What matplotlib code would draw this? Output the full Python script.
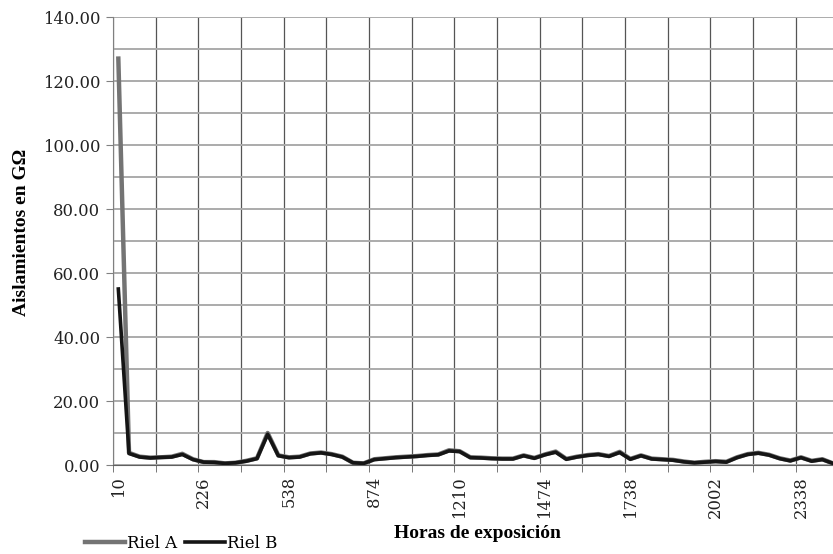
import matplotlib
matplotlib.use("Agg")
import matplotlib.pyplot as plt
from matplotlib.ticker import MultipleLocator, FixedLocator, FuncFormatter

riel_a = [127.0, 3.8, 2.6, 2.3, 2.4, 2.6, 3.5, 1.8, 0.9, 0.9,
          0.5, 0.7, 1.3, 2.1, 10.0, 3.0, 2.4, 2.6, 3.6, 3.9,
          3.4, 2.6, 0.7, 0.5, 1.8, 2.1, 2.4, 2.6, 2.8, 3.1,
          3.3, 4.6, 4.3, 2.4, 2.3, 2.1, 2.0, 2.0, 3.0, 2.2,
          3.3, 4.2, 1.9, 2.6, 3.1, 3.4, 2.8, 4.1, 1.9, 3.0,
          2.0, 1.8, 1.6, 1.1, 0.7, 1.0, 1.2, 1.0, 2.4, 3.4,
          3.8, 3.2, 2.1, 1.4, 2.4, 1.3, 1.8, 0.5]
riel_b = [55.0, 3.6, 2.5, 2.2, 2.4, 2.5, 3.3, 1.7, 0.9, 0.8,
          0.5, 0.7, 1.2, 2.0, 9.6, 2.9, 2.3, 2.5, 3.5, 3.8,
          3.3, 2.5, 0.7, 0.5, 1.7, 2.0, 2.3, 2.5, 2.7, 3.0,
          3.2, 4.4, 4.2, 2.3, 2.2, 2.0, 1.9, 1.9, 2.9, 2.1,
          3.2, 4.0, 1.8, 2.5, 3.0, 3.3, 2.7, 3.9, 1.8, 2.9,
          1.9, 1.7, 1.5, 1.0, 0.7, 0.9, 1.1, 0.9, 2.3, 3.3,
          3.7, 3.1, 2.0, 1.3, 2.3, 1.2, 1.7, 0.5]

# only every 8th category carries a label in the original
hour_labels = ["10", "226", "538", "874", "1210", "1474", "1738", "2002", "2338"]
label_every = 8

x = list(range(len(riel_a)))

fig = plt.figure(figsize=(8.33, 5.54), dpi=100)
ax = fig.add_axes([113 / 833, 89 / 554, 720 / 833, 448 / 554])

ax.plot(x, riel_a, color="#747474", lw=3.2, label="Riel A", zorder=3)
ax.plot(x, riel_b, color="#151515", lw=2.6, label="Riel B", zorder=4)

ax.set_xlim(-0.5, 67.0)
ax.set_ylim(0, 140)

# y axis
ax.yaxis.set_major_locator(MultipleLocator(20))
ax.yaxis.set_minor_locator(MultipleLocator(10))
ax.yaxis.set_major_formatter(FuncFormatter(lambda v, p: f"{v:.2f}"))
ax.tick_params(axis="y", which="major", length=5, color="#808080",
               labelsize=11.8, pad=4)
ax.tick_params(axis="y", which="minor", length=0)

# x axis
ax.xaxis.set_major_locator(FixedLocator([i * label_every for i in range(len(hour_labels))]))
ax.set_xticklabels(hour_labels, rotation=90, fontsize=11.8)
ax.xaxis.set_minor_locator(FixedLocator([-0.5 + 4 * k for k in range(18)]))
ax.tick_params(axis="x", which="major", length=0, pad=8)
ax.tick_params(axis="x", which="minor", length=5, color="#606060")

for lab in ax.get_xticklabels() + ax.get_yticklabels():
    lab.set_family("DejaVu Serif")
    lab.set_color("#222222")

ax.grid(axis="y", which="both", color="#ababab", lw=1.4, zorder=1)
ax.grid(axis="x", which="minor", color="#555555", lw=0.9, zorder=1)
ax.set_axisbelow(True)

for s in ["top", "right"]:
    ax.spines[s].set_visible(False)
ax.spines["left"].set_color("#808080")
ax.spines["bottom"].set_color("#606060")

fig.text(477 / 833, 1 - 533 / 554, "Horas de exposición", ha="center", va="center",
         family="Liberation Serif", fontweight="bold", fontsize=14)
fig.text(22 / 833, 1 - 232 / 554, "Aislamientos en GΩ", ha="center", va="center",
         rotation=90, family="Liberation Serif", fontweight="bold", fontsize=14)

leg = fig.legend(loc="center left", bbox_to_anchor=(70 / 833, 1 - 543 / 554), ncol=2,
                 frameon=False, handlelength=2.4, handletextpad=0.1, columnspacing=0.5,
                 prop={"family": "DejaVu Serif", "size": 12})

fig.savefig("out.png", dpi=100)
